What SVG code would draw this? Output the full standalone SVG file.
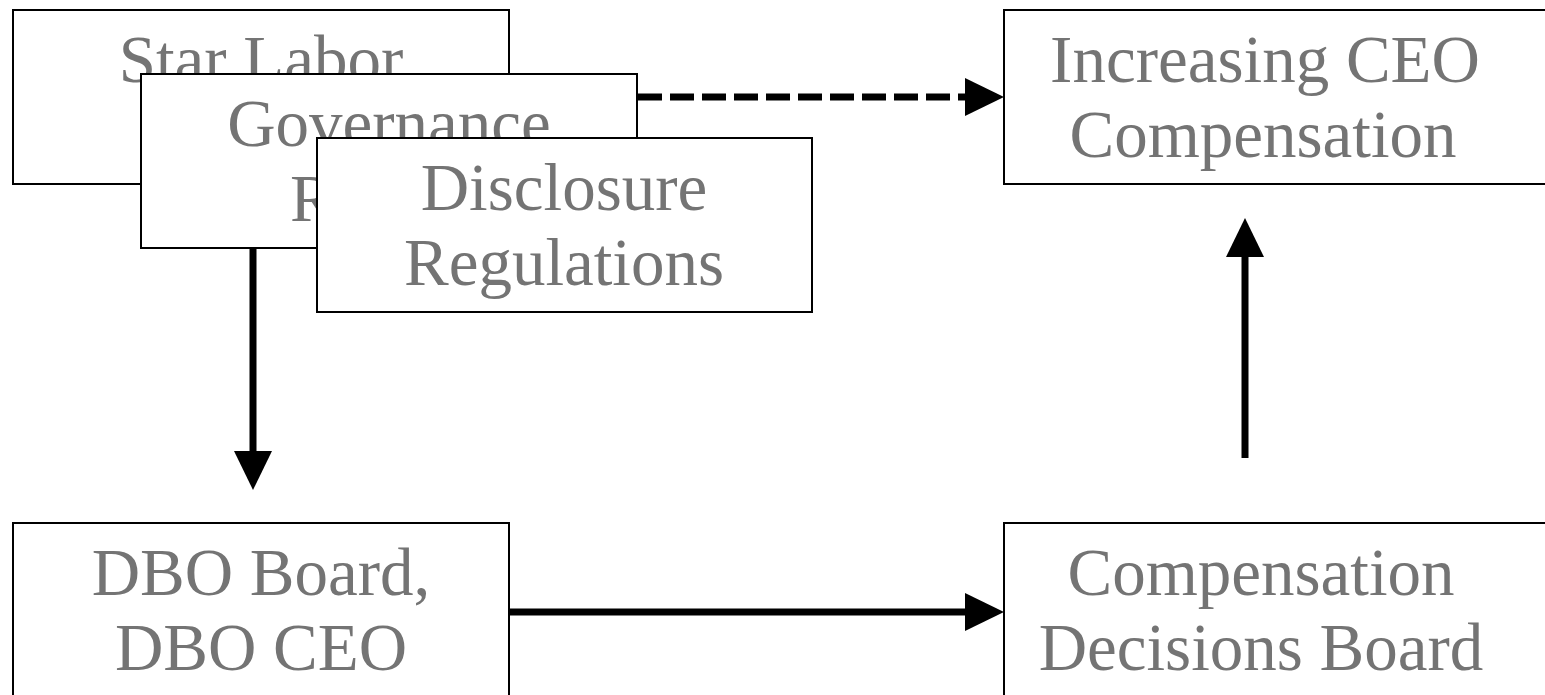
<svg xmlns="http://www.w3.org/2000/svg" width="1545" height="695" viewBox="0 0 1545 695">
  <style>
    .box { fill: #ffffff; stroke: #000000; stroke-width: 2; }
    .label { font-family: "Liberation Serif", "DejaVu Serif", serif; font-size: 67px; fill: #747474; text-anchor: middle; }
    .link { stroke: #000000; stroke-width: 7; fill: none; }
    .dashed { stroke-dasharray: 24 8; }
  </style>
  <defs>
    <marker id="head" markerUnits="userSpaceOnUse" markerWidth="40" markerHeight="38" refX="0" refY="19" orient="auto">
      <path d="M0,0 L39,19 L0,38 Z" fill="#000000"/>
    </marker>
  </defs>

  <rect width="1545" height="695" fill="#ffffff"/>

  <g id="star-labor">
    <rect class="box" x="13" y="10" width="496" height="174"/>
    <text class="label" x="261" y="82">Star Labor</text>
  </g>

  <g id="governance">
    <rect class="box" x="141" y="74" width="496" height="174"/>
    <text class="label" x="389" y="146">Governance</text>
    <text class="label" x="290" y="221" style="text-anchor:start">R</text>
  </g>

  <g id="disclosure">
    <rect class="box" x="317" y="138" width="495" height="174"/>
    <text class="label" x="564" y="210">Disclosure</text>
    <text class="label" x="564" y="285">Regulations</text>
  </g>

  <g id="increasing-ceo-compensation">
    <rect class="box" x="1004" y="10" width="550" height="174"/>
    <text class="label" x="1265" y="82">Increasing CEO</text>
    <text class="label" x="1263" y="157">Compensation</text>
  </g>

  <g id="dbo-board">
    <rect class="box" x="13" y="523" width="496" height="190"/>
    <text class="label" x="261" y="595">DBO Board,</text>
    <text class="label" x="261" y="670">DBO CEO</text>
  </g>

  <g id="compensation-decisions">
    <rect class="box" x="1004" y="523" width="550" height="190"/>
    <text class="label" x="1261" y="595">Compensation</text>
    <text class="label" x="1261" y="670">Decisions Board</text>
  </g>

  <g id="connectors">
    <line class="link dashed" x1="638" y1="97" x2="965" y2="97" marker-end="url(#head)"/>
    <line class="link" x1="253" y1="249" x2="253" y2="451" marker-end="url(#head)"/>
    <line class="link" x1="510" y1="612" x2="965" y2="612" marker-end="url(#head)"/>
    <line class="link" x1="1245" y1="458" x2="1245" y2="257" marker-end="url(#head)"/>
  </g>
</svg>
